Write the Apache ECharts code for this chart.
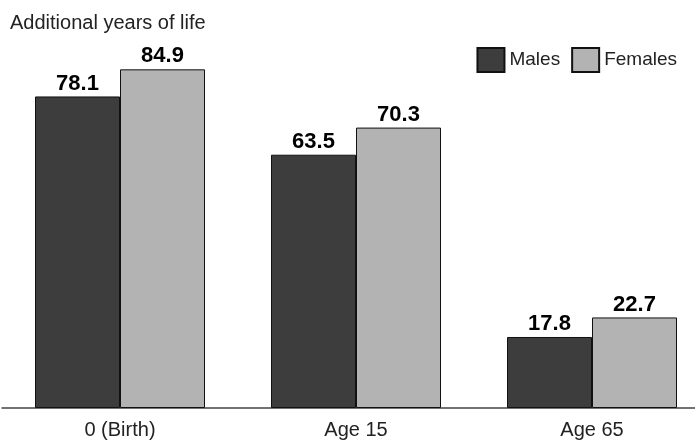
<!DOCTYPE html>
<html>
<head>
<meta charset="utf-8">
<script src="https://cdn.jsdelivr.net/npm/echarts@6/dist/echarts.min.js"></script>
<style>html,body{margin:0;padding:0;background:#fff}#c{width:695px;height:440px}</style>
</head>
<body>
<div id="c"></div>
<script>
var categories = ['0 (Birth)', 'Age 15', 'Age 65'];
var males = [78.1, 63.5, 17.8];
var females = [84.9, 70.3, 22.7];
var seriesNames = ['Males', 'Females'];
var yTitle = 'Additional years of life';

var FONT = 'Liberation Sans, Arial, sans-serif';
var chart = echarts.init(document.getElementById('c'), null, {renderer: 'canvas'});
var labelStyle = {
  show: true, position: 'top', distance: 2,
  fontFamily: FONT, fontWeight: 'bold', fontSize: 22, color: '#000',
  formatter: function (p) { return p.value.toFixed(1); }
};
chart.setOption({
  animation: false,
  title: {
    text: yTitle, left: 10, top: 13, padding: 0,
    textStyle: {fontFamily: FONT, fontWeight: 'normal', fontSize: 20, color: '#222'}
  },
  legend: {
    right: 18, top: 47, itemWidth: 27, itemHeight: 24, itemGap: 11, padding: 0,
    icon: 'rect',
    textStyle: {fontFamily: FONT, fontSize: 19, color: '#222'},
    data: seriesNames
  },
  grid: {left: 2, width: 708, top: 49, height: 359, containLabel: false, outerBoundsMode: 'none'},
  xAxis: {
    type: 'category', data: categories,
    axisLine: {lineStyle: {color: '#444', width: 1.5}},
    axisTick: {show: false},
    axisLabel: {fontFamily: FONT, fontSize: 20, color: '#222', margin: 12}
  },
  yAxis: {
    type: 'value', min: 0, max: 90,
    show: false
  },
  series: [
    {name: seriesNames[0], type: 'bar', data: males, barWidth: 85, barGap: '0%',
     itemStyle: {color: '#3d3d3d', borderColor: '#111', borderWidth: 1}, label: labelStyle},
    {name: seriesNames[1], type: 'bar', data: females, barWidth: 85,
     itemStyle: {color: '#b3b3b3', borderColor: '#111', borderWidth: 1}, label: labelStyle}
  ]
});
</script>
</body>
</html>
